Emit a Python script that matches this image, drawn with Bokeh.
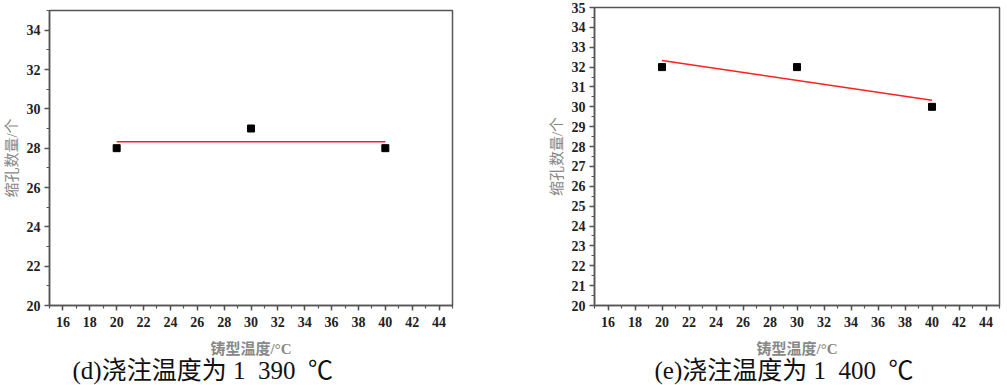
from bokeh.plotting import figure
from bokeh.layouts import row
from bokeh.models import Range1d, FixedTicker, Title
from bokeh.embed import file_html
from bokeh.resources import INLINE

# ---- data ----
mold_temp = [20, 30, 40]
pores_d = [28, 29, 28]
pores_e = [32, 32, 30]
fit_x = [20, 40]
fit_d = [28.33, 28.33]
fit_e = [32.33, 30.33]
x_ticks = list(range(16, 45, 2))
x_minor = list(range(15, 46, 1))
yticks_d = list(range(20, 35, 2))
yminor_d = list(range(20, 36, 1))
yticks_e = list(range(20, 36, 1))
yminor_e = [20 + 0.5 * i for i in range(31)]
x_title = "铸型温度/°C"
y_title = "缩孔数量/个"
NB = "\u00a0"
caption_d = "(d)浇注温度为 1" + NB * 2 + "390" + NB * 2 + "℃"
caption_e = "(e)浇注温度为 1" + NB * 2 + "400" + NB * 2 + "℃"

AX = "#555555"
SERIF = "Liberation Serif"
MIXED = "Liberation Serif, Noto Sans CJK SC"


def make(width, height, mb, yticks, yminor, xs, ys, fx, fy, caption, cap_off, margin=None):
    p = figure(width=width, height=height, output_backend="svg", toolbar_location=None,
               title=None, margin=margin,
               x_range=Range1d(15, 45), y_range=Range1d(20, 35),
               min_border_left=mb[0], min_border_right=mb[1],
               min_border_top=mb[2], min_border_bottom=mb[3])
    p.xgrid.visible = False
    p.ygrid.visible = False
    p.outline_line_color = AX
    p.outline_line_width = 1.5
    p.background_fill_color = "white"
    p.border_fill_color = "white"
    p.xaxis.ticker = FixedTicker(ticks=x_ticks, minor_ticks=x_minor)
    p.yaxis.ticker = FixedTicker(ticks=yticks, minor_ticks=yminor)
    for ax in (p.xaxis, p.yaxis):
        ax.axis_line_color = AX
        ax.axis_line_width = 1.5
        ax.major_tick_line_color = AX
        ax.minor_tick_line_color = AX
        ax.major_tick_line_width = 1.5
        ax.minor_tick_line_width = 1.2
        ax.major_tick_in = 0
        ax.major_tick_out = 5
        ax.minor_tick_in = 0
        ax.minor_tick_out = 3
        ax.major_label_text_font = SERIF
        ax.major_label_text_font_style = "bold"
        ax.major_label_text_font_size = "14px"
        ax.major_label_text_color = "#222222"
        ax.axis_label_text_font = MIXED
        ax.axis_label_text_font_size = "15px"
        ax.axis_label_text_color = "#888888"
    p.xaxis.axis_label = x_title
    p.xaxis.axis_label_text_font_style = "bold"
    p.xaxis.major_label_standoff = 6
    p.xaxis.axis_label_standoff = 11
    p.yaxis.axis_label = y_title
    p.yaxis.axis_label_text_font_style = "normal"
    p.yaxis.major_label_standoff = 4
    p.yaxis.axis_label_standoff = 4

    p.line(fx, fy, line_color="#ff2020", line_width=1.6)
    p.scatter(xs, ys, marker="square", size=7, fill_color="black", line_color="black")

    p.add_layout(Title(text=caption, align="left", offset=cap_off, standoff=-6,
                       vertical_align="top",
                       text_font=MIXED, text_font_size="25px",
                       text_font_style="normal", text_color="#111111"), "below")
    return p


p1 = make(530, 385, (47, 78, 10, 79), yticks_d, yminor_d, mold_temp, pores_d,
          fit_x, fit_d, caption_d, 23)
p2 = make(477, 388, (64, 8, 10, 80), yticks_e, yminor_e, mold_temp, pores_e,
          fit_x, fit_e, caption_e, 60, margin=(-3, 0, 0, 0))

layout = row(p1, p2)
open("out.html", "w").write(file_html(layout, INLINE))
